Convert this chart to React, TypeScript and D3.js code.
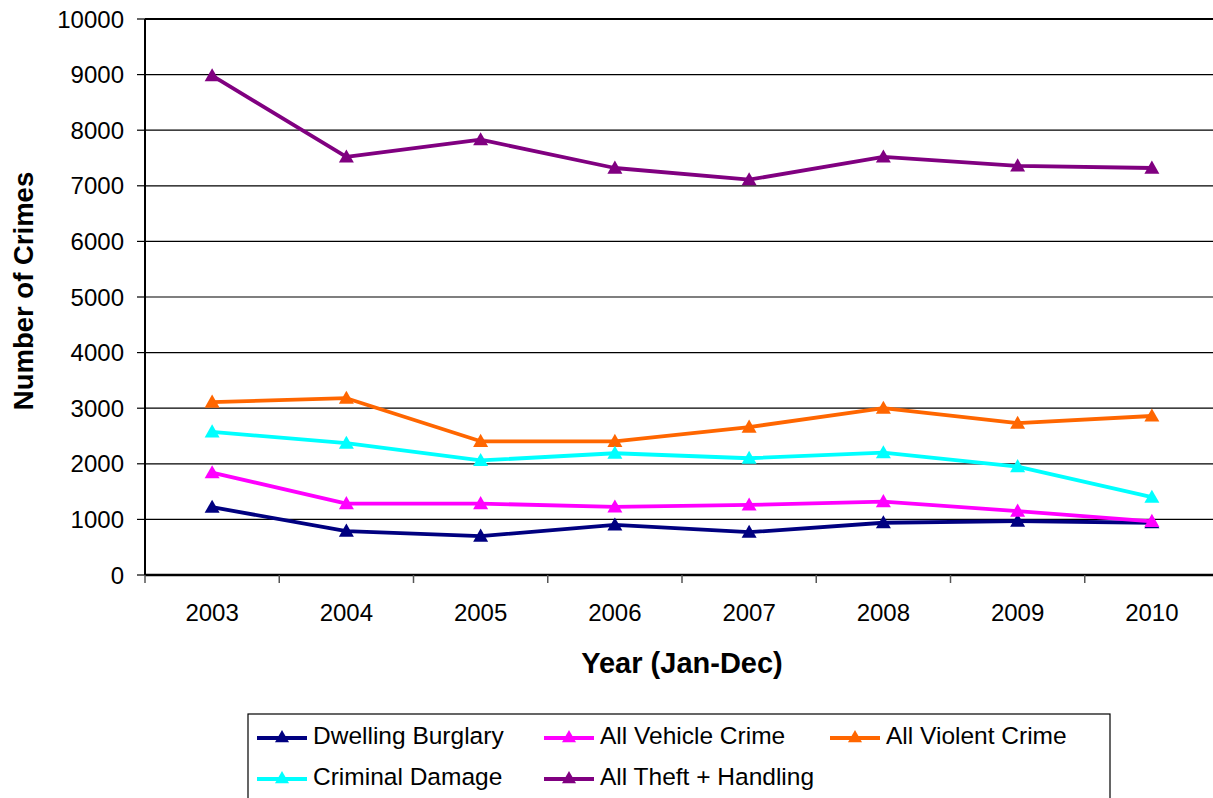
import React, { useEffect } from "react";
import * as d3 from "d3";

const years = ["2003", "2004", "2005", "2006", "2007", "2008", "2009", "2010"];
const dwellingBurglary = [1220, 790, 700, 900, 770, 940, 970, 940];
const vehicleCrime = [1840, 1285, 1285, 1225, 1260, 1320, 1150, 965];
const violentCrime = [3110, 3180, 2405, 2405, 2660, 3000, 2730, 2860];
const criminalDamage = [2575, 2370, 2060, 2190, 2100, 2200, 1950, 1400];
const theftHandling = [8980, 7520, 7830, 7320, 7110, 7520, 7360, 7320];
const yTicks = [0, 1000, 2000, 3000, 4000, 5000, 6000, 7000, 8000, 9000, 10000];

const series = [
  { name: "Dwelling Burglary", values: dwellingBurglary, color: "#000080" },
  { name: "All Vehicle Crime", values: vehicleCrime, color: "#FF00FF" },
  { name: "All Violent Crime", values: violentCrime, color: "#FF6600" },
  { name: "Criminal Damage", values: criminalDamage, color: "#00FFFF" },
  { name: "All Theft + Handling", values: theftHandling, color: "#800080" },
];

const W = 1213;
const H = 798;
const plot = { left: 145, right: 1219, top: 19, bottom: 575 };
const font = "'Liberation Sans', Arial, sans-serif";

function triangle(cx: number, cy: number, r = 7.5) {
  return `M${cx},${cy - r}L${cx + r},${cy + r * 0.75}L${cx - r},${cy + r * 0.75}Z`;
}

export default function App() {
  useEffect(() => {
    document.body.style.margin = "0";
  }, []);

  const x = d3.scaleBand<string>().domain(years).range([plot.left, plot.right]);
  const y = d3.scaleLinear().domain([0, 10000]).range([plot.bottom, plot.top]);
  const cx = (yr: string) => (x(yr) as number) + x.bandwidth() / 2;

  const line = d3
    .line<number>()
    .x((_, i) => cx(years[i]))
    .y((v) => y(v));

  const legendCols = [257, 544, 830];
  const legendRows = [735, 776];

  return (
    <svg width={W} height={H} style={{ display: "block", background: "#fff" }}>
      {/* horizontal gridlines */}
      {yTicks.map((t) => (
        <line
          key={t}
          x1={plot.left}
          x2={plot.right}
          y1={y(t)}
          y2={y(t)}
          stroke="#000"
          strokeWidth={t === 10000 ? 2 : 1.2}
        />
      ))}
      {/* y axis */}
      <line x1={plot.left} x2={plot.left} y1={plot.top} y2={plot.bottom} stroke="#000" strokeWidth={2} />
      {yTicks.map((t) => (
        <g key={`yt${t}`}>
          <line x1={plot.left - 8} x2={plot.left} y1={y(t)} y2={y(t)} stroke="#000" strokeWidth={1.2} />
          <text
            x={124}
            y={y(t)}
            textAnchor="end"
            dominantBaseline="central"
            fontFamily={font}
            fontSize={24}
            fill="#000"
          >
            {t}
          </text>
        </g>
      ))}
      {/* x axis */}
      <line x1={plot.left} x2={plot.right} y1={plot.bottom} y2={plot.bottom} stroke="#000" strokeWidth={2.5} />
      {years.map((yr) => (
        <line
          key={`xt${yr}`}
          x1={x(yr) as number}
          x2={x(yr) as number}
          y1={plot.bottom}
          y2={plot.bottom + 8}
          stroke="#555"
          strokeWidth={1.5}
        />
      ))}
      {years.map((yr) => (
        <text
          key={`xl${yr}`}
          x={cx(yr)}
          y={612}
          textAnchor="middle"
          dominantBaseline="central"
          fontFamily={font}
          fontSize={24}
          fill="#000"
        >
          {yr}
        </text>
      ))}
      {/* axis titles */}
      <text
        x={682}
        y={663}
        textAnchor="middle"
        dominantBaseline="central"
        fontFamily={font}
        fontSize={29}
        fontWeight="bold"
      >
        Year (Jan-Dec)
      </text>
      <text
        transform={`translate(23,291) rotate(-90)`}
        textAnchor="middle"
        dominantBaseline="central"
        fontFamily={font}
        fontSize={27.5}
        fontWeight="bold"
      >
        Number of Crimes
      </text>
      {/* series */}
      {series.map((s) => (
        <g key={s.name}>
          <path d={line(s.values) as string} fill="none" stroke={s.color} strokeWidth={3.8} strokeLinejoin="round" />
          {s.values.map((v, i) => (
            <path key={i} d={triangle(cx(years[i]), y(v))} fill={s.color} />
          ))}
        </g>
      ))}
      {/* legend */}
      <rect x={248} y={714} width={862} height={100} fill="#fff" stroke="#000" strokeWidth={1.2} />
      {series.map((s, i) => {
        const lx = legendCols[i % 3];
        const ly = legendRows[Math.floor(i / 3)];
        return (
          <g key={`lg${s.name}`}>
            <line x1={lx} x2={lx + 50} y1={ly + 3} y2={ly + 3} stroke={s.color} strokeWidth={3.8} />
            <path d={triangle(lx + 25, ly + 2, 7)} fill={s.color} />
            <text
              x={lx + 56}
              y={ly}
              dominantBaseline="central"
              fontFamily={font}
              fontSize={24.5}
              fill="#000"
            >
              {s.name}
            </text>
          </g>
        );
      })}
    </svg>
  );
}
